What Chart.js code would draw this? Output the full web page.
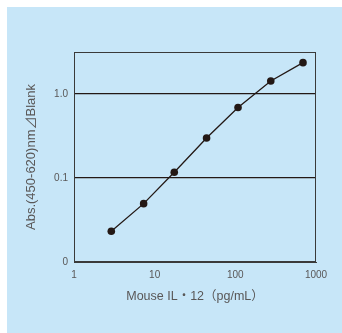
<!DOCTYPE html>
<html>
<head>
<meta charset="utf-8">
<script src="https://cdn.jsdelivr.net/npm/chart.js@4/dist/chart.umd.min.js"></script>
<style>
html,body{margin:0;padding:0;background:#fff;}
#wrap{position:absolute;left:7px;top:7px;width:335px;height:326px;background:#c7e6f8;}
</style>
</head>
<body>
<div id="wrap"><canvas id="c" width="335" height="326"></canvas></div>
<script>
// Data
const concentrations = [2.9, 7.3, 17.5, 44, 108, 275, 690];   // pg/mL
const absorbance = [0.0232, 0.0495, 0.117, 0.299, 0.689, 1.43, 2.36];
const xTickValues = [1, 10, 100, 1000];
const xTickLabels = ['1', '10', '100', '1000'];
const yTickValues = [0.01, 0.1, 1];
const yTickLabels = ['0', '0.1', '1.0'];

const points = concentrations.map((x, i) => ({x: x, y: absorbance[i]}));
const ink = '#231815';
const textGray = '#595757';

const frame = {
  id: 'frame',
  afterDatasetsDraw(chart) {
    const a = chart.chartArea, ctx = chart.ctx;
    ctx.save();
    ctx.strokeStyle = '#3a3a3a';
    ctx.lineWidth = 1;
    ctx.strokeRect(Math.round(a.left) + 0.5, Math.round(a.top) + 0.5,
      Math.round(a.right - a.left) - 1, Math.round(a.bottom - a.top) - 1);
    ctx.restore();
  }
};

new Chart(document.getElementById('c'), {
  type: 'scatter',
  data: {
    datasets: [{
      data: points,
      showLine: true,
      borderColor: ink,
      borderWidth: 1.3,
      backgroundColor: ink,
      pointRadius: 3.8,
      pointBorderWidth: 0,
      pointBackgroundColor: ink
    }]
  },
  options: {
    responsive: false,
    animation: false,
    layout: {padding: {left: 0, right: 26, top: 45, bottom: 0}},
    plugins: {legend: {display: false}, tooltip: {enabled: false}},
    scales: {
      x: {
        type: 'logarithmic',
        min: 1, max: 1000,
        afterBuildTicks(s) { s.ticks = xTickValues.map(v => ({value: v})); },
        afterFit(s) { s.height = 71; },
        ticks: {
          autoSkip: false, maxRotation: 0, padding: 7,
          color: textGray,
          font: {family: '"Liberation Sans Narrow", "Liberation Sans", Arial, sans-serif', size: 10},
          callback(v) { const i = xTickValues.indexOf(v); return i >= 0 ? xTickLabels[i] : ''; }
        },
        grid: {display: false, drawTicks: false},
        border: {display: true, color: '#3a3a3a'},
        title: {
          display: true,
          text: 'Mouse IL・12（pg/mL）',
          color: textGray,
          font: {family: '"Liberation Sans", Arial, "Noto Sans CJK JP", sans-serif', size: 12.5},
          padding: {top: 0, bottom: 29}
        }
      },
      y: {
        type: 'logarithmic',
        min: 0.01, max: 3.16,
        afterBuildTicks(s) { s.ticks = yTickValues.map(v => ({value: v})); },
        afterFit(s) { s.width = 67; },
        ticks: {
          autoSkip: false, padding: 6,
          color: textGray,
          font: {family: '"Liberation Sans Narrow", "Liberation Sans", Arial, sans-serif', size: 10},
          callback(v) { const i = yTickValues.indexOf(v); return i >= 0 ? yTickLabels[i] : ''; }
        },
        grid: {
          drawTicks: false,
          lineWidth: 1.2,
          color(ctx) { return (ctx.tick && (ctx.tick.value === 0.1 || ctx.tick.value === 1)) ? ink : 'rgba(0,0,0,0)'; }
        },
        border: {display: true, color: '#3a3a3a'},
        title: {
          display: true,
          text: 'Abs.(450-620)nm⊿Blank',
          color: textGray,
          font: {family: '"Liberation Sans", Arial, "Noto Sans CJK JP", sans-serif', size: 13},
          padding: {top: 17, bottom: 0}
        }
      }
    }
  },
  plugins: [frame]
});
</script>
</body>
</html>
